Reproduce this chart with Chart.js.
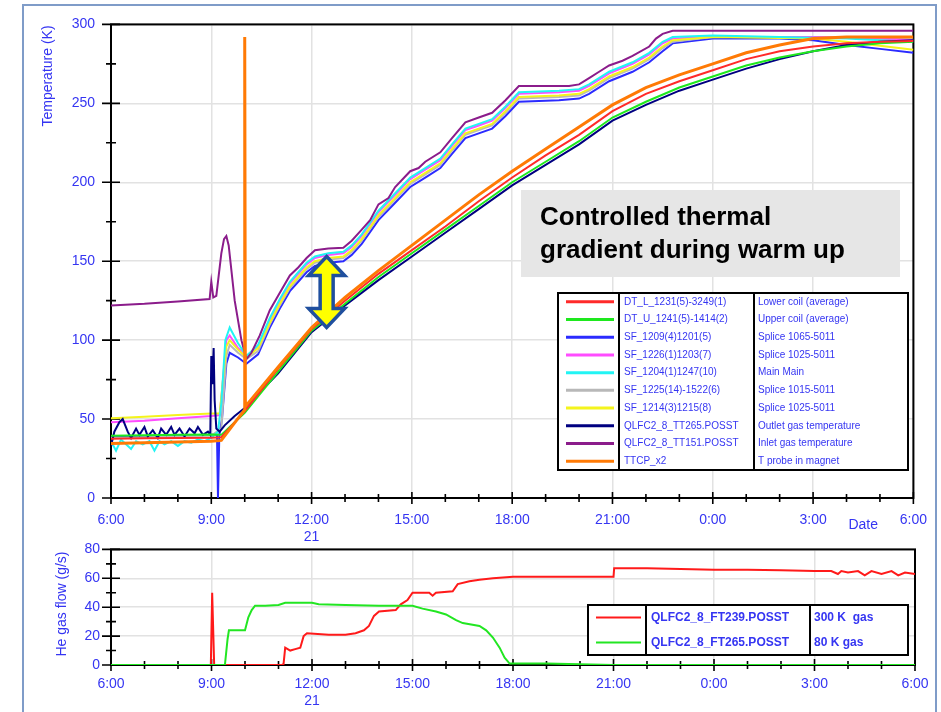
<!DOCTYPE html>
<html>
<head>
<meta charset="utf-8">
<script src="https://cdn.jsdelivr.net/npm/chart.js@4.4.1/dist/chart.umd.min.js"></script>
<style>
body { margin: 0; background: #fff; width: 941px; height: 712px; overflow: hidden; position: relative; }
#frame { position: absolute; left: 22px; top: 4px; width: 911px; height: 740px; border: 2px solid #7f9cc8; }
canvas { position: absolute; left: 0; }
</style>
</head>
<body>
<div id="frame"></div>
<canvas id="tempChart" width="941" height="545" style="top:0px"></canvas>
<canvas id="flowChart" width="941" height="182" style="top:530px"></canvas>
<script>
// x values are hours after 6:00
const timeLabels = ['6:00', '9:00', '12:00', '15:00', '18:00', '21:00', '0:00', '3:00', '6:00'];
const dayLabel = '21';

// ---- temperature series [hour, K] ----
const lowerCoil = [[0,37.5],[1,37.8],[2,38],[3,38.2],[3.3,38.5],[4,55],[5,82],[6,107],[7,125],[8,142],[9,157],[10,172],[11,188],[12,203],[13,217],[14,230],[15,245],[16,256],[17,264],[18,271],[19,278],[20,283],[21,286],[22,288],[23,289],[24,289.5]];
const upperCoil = [[0,39.5],[1,39.8],[2,40],[3,40.2],[3.3,40],[4,54],[5,80],[6,106],[7,123],[8,140],[9,155],[10,170],[11,185],[12,200],[13,213],[14,226],[15,241],[16,251],[17,260],[18,267],[19,274],[20,279],[21,283],[22,286],[23,288],[24,289]];
const splice1209 = [[0,38.5],[1,39],[2,39.5],[3.1,40],[3.17,40],[3.2,0],[3.24,40],[3.32,50],[3.45,85],[3.55,92],[3.8,89],[4.05,85],[4.4,91],[4.75,108],[5.05,120],[5.35,131],[5.6,137],[5.85,143],[6.1,147],[6.5,149],[6.95,150],[7.2,154],[7.5,161],[8.0,176],[8.5,187],[8.95,197],[9.4,203],[9.85,209],[10.2,218],[10.6,228],[11.0,231],[11.4,234],[11.8,242],[12.2,251],[13.4,252],[14.0,253],[14.3,256],[14.9,264],[15.6,270],[16.1,276],[16.5,283],[16.8,288],[18,291],[20,291],[21,290],[22,287],[23,284.5],[24,282]];
const splice1226 = [[0,48],[1,49],[2,50.5],[3.0,52],[3.25,52.5],[3.33,70],[3.45,100],[3.55,103],[3.8,95],[4.05,90],[4.4,96],[4.75,113],[5.05,125],[5.35,136],[5.6,142],[5.85,148],[6.1,152],[6.5,154],[6.95,155],[7.2,159],[7.5,166],[8.0,181],[8.5,192],[8.95,202],[9.4,208],[9.85,214],[10.2,223],[10.6,233],[11.0,236],[11.4,239],[11.8,247],[12.2,256],[13.4,257],[14.0,258],[14.3,261],[14.9,269],[15.6,275],[16.1,281],[16.5,288],[16.8,291],[18,292],[21,292],[22,291.5],[23,291],[24,290]];
const splice1204 = [[0,36],[0.15,30],[0.3,37],[0.45,34],[0.6,31],[0.75,36],[0.95,34],[1.15,36],[1.3,30],[1.45,36],[1.6,34],[1.8,36],[2.0,33],[2.2,36],[2.4,35],[2.6,37],[2.8,36],[3.0,38],[3.2,42],[3.3,60],[3.42,100],[3.55,108],[3.8,98],[4.05,90],[4.4,97],[4.75,114],[5.05,126],[5.35,137],[5.6,143],[5.85,149],[6.1,153],[6.5,155],[6.95,156],[7.2,160],[7.5,167],[8.0,182],[8.5,193],[8.95,203],[9.4,209],[9.85,215],[10.2,224],[10.6,234],[11.0,237],[11.4,240],[11.8,248],[12.2,257],[13.4,258],[14.0,259],[14.3,262],[14.9,270],[15.6,276],[16.1,282],[16.5,289],[16.8,292],[18,293],[20,292],[21,291.5],[22,291],[23,290],[24,289]];
const splice1225 = [[0,38],[1,38.5],[2,39],[3,39.5],[3.3,44],[3.45,90],[3.55,97],[3.8,92],[4.05,88],[4.4,93],[4.75,110],[5.05,122],[5.35,133],[5.6,139],[5.85,145],[6.1,149],[6.5,151],[6.95,152],[7.2,156],[7.5,163],[8.0,178],[8.5,189],[8.95,199],[9.4,205],[9.85,211],[10.2,220],[10.6,230],[11.0,233],[11.4,236],[11.8,244],[12.2,253],[13.4,254],[14.0,255],[14.3,258],[14.9,266],[15.6,272],[16.1,278],[16.5,285],[16.8,289],[18,292],[21,292],[22,291.5],[23,291],[24,290.5]];
const splice1214 = [[0,50.5],[1,51.5],[2,52.5],[3.0,53.5],[3.25,53.5],[3.35,75],[3.45,96],[3.55,100],[3.8,94],[4.05,89],[4.4,95],[4.75,111],[5.05,123],[5.35,134],[5.6,140],[5.85,146],[6.1,150],[6.5,152],[6.95,153],[7.2,157],[7.5,164],[8.0,179],[8.5,190],[8.95,200],[9.4,206],[9.85,212],[10.2,221],[10.6,231],[11.0,234],[11.4,237],[11.8,245],[12.2,254],[13.4,255],[14.0,256],[14.3,259],[14.9,267],[15.6,273],[16.1,279],[16.5,286],[16.8,290],[18,292],[21,291],[22,289],[23,286.5],[24,284]];
const outletGas = [[0,33],[0.1,42],[0.25,48],[0.35,50],[0.5,42],[0.6,38],[0.75,44],[0.85,40],[1.0,45],[1.1,39],[1.25,43],[1.4,38],[1.5,44],[1.65,40],[1.8,45],[1.9,40],[2.05,44],[2.2,39],[2.35,44],[2.5,41],[2.6,45],[2.75,40],[2.9,42],[2.97,40],[3.0,90],[3.03,72],[3.07,95],[3.1,62],[3.15,44],[3.25,42],[3.4,46],[3.7,52],[4,57],[5,79],[6,105],[7,122],[8,138],[9,153],[10,168],[11,183],[12,198],[13,211],[14,224],[15,239],[16,249],[17,258],[18,265],[19,272],[20,278],[21,283],[22,287],[23,289],[24,290]];
const inletGas = [[0,122],[1,123],[2,124.5],[2.95,126],[3.0,137],[3.06,127],[3.15,128],[3.3,155],[3.38,164],[3.45,166],[3.52,160],[3.7,125],[3.9,100],[4.05,88],[4.2,92],[4.45,103],[4.75,119],[5.05,130],[5.35,141],[5.6,146],[5.85,152],[6.1,157],[6.5,158],[6.95,158.5],[7.2,163],[7.5,170],[7.75,176],[8.0,186],[8.3,190],[8.5,197],[8.95,207],[9.2,209],[9.4,213],[9.85,219],[10.2,228],[10.6,238],[11.0,241],[11.4,244],[11.8,252],[12.2,261],[13.0,261],[13.7,261],[14.0,262],[14.3,266],[14.6,270],[14.9,274],[15.3,277],[15.6,280],[16.1,286],[16.3,291],[16.5,294],[16.8,296],[20,296],[24,296]];
const probeTTCP = [[0,34.5],[1,35],[2,35.5],[3,36],[3.3,36.5],[4,56],[4.0,292],[4.02,58],[5,83],[6,108],[7,127],[8,144],[9,160],[10,176],[11,192],[12,207],[13,221],[14,235],[15,249],[16,260],[17,268],[18,275],[19,282],[20,287],[21,291],[22,292],[23,292],[24,292]];

const tempNames = ['DT_L_1231(5)-3249(1)', 'DT_U_1241(5)-1414(2)', 'SF_1209(4)1201(5)', 'SF_1226(1)1203(7)', 'SF_1204(1)1247(10)', 'SF_1225(14)-1522(6)', 'SF_1214(3)1215(8)', 'QLFC2_8_TT265.POSST', 'QLFC2_8_TT151.POSST', 'TTCP_x2'];
const tempDescs = ['Lower coil (average)', 'Upper coil (average)', 'Splice 1065-5011', 'Splice 1025-5011', 'Main Main', 'Splice 1015-5011', 'Splice 1025-5011', 'Outlet gas temperature', 'Inlet gas temperature', 'T probe in magnet'];
const tempSeries = [lowerCoil, upperCoil, splice1209, splice1226, splice1204, splice1225, splice1214, outletGas, inletGas, probeTTCP];

// ---- He gas flow series [hour, g/s] ----
const flow300K = [[0,0],[2.98,0],[3.02,50],[3.08,0],[5.1,0],[5.15,0.5],[5.2,12],[5.35,10],[5.5,11],[5.65,12],[5.75,20],[5.85,22],[6.5,21],[7.0,21],[7.3,22],[7.55,24],[7.7,27],[7.85,34],[8.0,37],[8.5,38],[8.65,42],[8.85,45],[9.0,50],[9.5,50],[9.6,48],[9.7,50],[10.2,51],[10.35,56],[10.7,58],[11.0,59],[11.4,60],[12,61],[13,61],[14,61],[15,61],[15.02,67],[16,67],[17,66.5],[18,66],[19,66],[20,65.5],[21,65],[21.5,65],[21.7,63],[21.8,65],[22,64],[22.3,65],[22.5,62],[22.7,65],[23,63],[23.3,65],[23.5,62],[23.7,64],[24,63]];
const flow80K = [[0,0],[3.4,0],[3.48,18],[3.52,24],[4.0,24],[4.1,33],[4.2,38],[4.3,41],[4.6,41],[5.0,41.5],[5.2,43],[5.5,43],[6.0,43],[6.2,42],[7,41.5],[8,41],[9,41],[9.3,39],[9.7,37],[10,35],[10.3,31],[10.5,29],[11,27],[11.2,24],[11.4,19],[11.6,12],[11.75,5],[11.9,1],[13,1],[14,0.5],[15,0],[24,0]];
const flowNames = ['QLFC2_8_FT239.POSST', 'QLFC2_8_FT265.POSST'];
const flowDescs = ['300 K  gas', '80 K gas'];

const BLUE = '#3535f2';
const FONT = '"Liberation Sans", Arial, sans-serif';
const tempColors = ['#ff2a2a', '#1ee81e', '#2b2bff', '#ff4cff', '#22f4f4', '#b8b8b8', '#f4f41c', '#000080', '#8b1c8b', '#ff7a05'];
const tempWidths = [2, 2, 2, 2, 2, 2, 2, 2, 2, 3];
const tempOrder = [2, 3, 9, 7, 5, 8, 6, 4, 1, 0];

function timeTick(v) {
    const label = timeLabels[v / 3];
    if (v === 6) return [label, dayLabel];
    return label;
}

function drawFrame(chart, yStep, yMajor) {
    const { ctx, chartArea: a, scales: { x, y } } = chart;
    ctx.save();
    ctx.strokeStyle = '#000';
    ctx.lineWidth = 2;
    ctx.strokeRect(a.left, a.top, a.right - a.left, a.bottom - a.top);
    ctx.lineWidth = 1.6;
    ctx.beginPath();
    for (let h = x.min; h <= x.max; h += 1) {
        const px = x.getPixelForValue(h);
        const len = h % 3 === 0 ? 6 : 4;
        ctx.moveTo(px, a.bottom - len);
        ctx.lineTo(px, a.bottom + len);
    }
    for (let v = y.min; v <= y.max; v += yStep) {
        const py = y.getPixelForValue(v);
        const len = v % yMajor === 0 ? 9 : 5;
        ctx.moveTo(a.left - len, py);
        ctx.lineTo(a.left + len, py);
    }
    ctx.stroke();
    ctx.restore();
}

function drawYTitle(ctx, text, cx, cy) {
    ctx.save();
    ctx.translate(cx, cy);
    ctx.rotate(-Math.PI / 2);
    ctx.font = '14px ' + FONT;
    ctx.fillStyle = BLUE;
    ctx.textAlign = 'center';
    ctx.textBaseline = 'middle';
    ctx.fillText(text, 0, 0);
    ctx.restore();
}

function drawLegendTable(ctx, box, div1, div2, names, descs, colors, font, lineW) {
    const rowH = box.h / names.length;
    ctx.save();
    ctx.fillStyle = '#fff';
    ctx.fillRect(box.x, box.y, box.w, box.h);
    ctx.strokeStyle = '#000';
    ctx.lineWidth = 2;
    ctx.strokeRect(box.x, box.y, box.w, box.h);
    ctx.beginPath();
    ctx.moveTo(div1, box.y); ctx.lineTo(div1, box.y + box.h);
    ctx.moveTo(div2, box.y); ctx.lineTo(div2, box.y + box.h);
    ctx.stroke();
    ctx.font = font;
    ctx.textBaseline = 'middle';
    ctx.fillStyle = BLUE;
    names.forEach((n, i) => {
        const cy = box.y + rowH * (i + 0.5);
        ctx.strokeStyle = colors[i];
        ctx.lineWidth = lineW;
        ctx.beginPath();
        ctx.moveTo(box.x + 8, cy);
        ctx.lineTo(div1 - 5, cy);
        ctx.stroke();
        ctx.fillText(n, div1 + 5, cy);
        ctx.fillText(descs[i], div2 + 4, cy);
    });
    ctx.restore();
}

const tempDecor = {
    id: 'tempDecor',
    beforeDatasetsDraw(chart) {
        drawFrame(chart, 25, 50);
    },
    afterDraw(chart) {
        const { ctx, chartArea: a, scales: { x, y } } = chart;
        drawYTitle(ctx, 'Temperature (K)', 48, 76);
        ctx.save();
        ctx.font = '14px ' + FONT;
        ctx.fillStyle = BLUE;
        ctx.textAlign = 'center';
        ctx.textBaseline = 'middle';
        ctx.fillText('Date', x.getPixelForValue(22.5), a.bottom + 27);
        // annotation
        ctx.fillStyle = '#e6e6e6';
        ctx.fillRect(521, 190, 379, 87);
        ctx.fillStyle = '#000';
        ctx.font = 'bold 26px ' + FONT;
        ctx.textAlign = 'left';
        ctx.fillText('Controlled thermal', 540, 218);
        ctx.fillText('gradient during warm up', 540, 251);
        // double arrow between the two groups
        const cx = x.getPixelForValue(6.45);
        const top = y.getPixelForValue(153);
        const bot = y.getPixelForValue(108);
        const hw = 18, hh = 19, sw = 6.5;
        ctx.beginPath();
        ctx.moveTo(cx, top);
        ctx.lineTo(cx + hw, top + hh);
        ctx.lineTo(cx + sw, top + hh);
        ctx.lineTo(cx + sw, bot - hh);
        ctx.lineTo(cx + hw, bot - hh);
        ctx.lineTo(cx, bot);
        ctx.lineTo(cx - hw, bot - hh);
        ctx.lineTo(cx - sw, bot - hh);
        ctx.lineTo(cx - sw, top + hh);
        ctx.lineTo(cx - hw, top + hh);
        ctx.closePath();
        ctx.fillStyle = '#ffff00';
        ctx.fill();
        ctx.strokeStyle = '#1f4f9e';
        ctx.lineWidth = 3.5;
        ctx.lineJoin = 'miter';
        ctx.stroke();
        ctx.restore();
        drawLegendTable(ctx, { x: 558, y: 293, w: 350, h: 177 }, 619, 754,
            tempNames, tempDescs, tempColors, '10px ' + FONT, 3);
    }
};

const flowDecor = {
    id: 'flowDecor',
    beforeDatasetsDraw(chart) {
        drawFrame(chart, 10, 20);
    },
    afterDraw(chart) {
        drawYTitle(chart.ctx, 'He gas flow (g/s)', 62, 74);
        drawLegendTable(chart.ctx, { x: 588, y: 75, w: 320, h: 50 }, 646, 810,
            flowNames, flowDescs, ['#ff1a1a', '#22e622'], 'bold 12px ' + FONT, 2);
    }
};

function xScale(pad) {
    return {
        type: 'linear', min: 0, max: 24,
        afterFit: s => { s.height = 47; },
        ticks: { stepSize: 3, color: BLUE, font: { family: FONT, size: 14, lineHeight: 1.2 }, padding: pad, maxRotation: 0, autoSkip: false, callback: timeTick },
        grid: { color: '#e2e2e2', lineWidth: 1.5, drawTicks: false },
        border: { display: false }
    };
}

new Chart(document.getElementById('tempChart'), {
    type: 'line',
    data: {
        datasets: tempSeries.map((s, i) => ({
            label: tempNames[i],
            data: s.map(p => ({ x: p[0], y: p[1] })),
            borderColor: tempColors[i],
            borderWidth: tempWidths[i],
            pointRadius: 0,
            tension: 0,
            order: tempOrder[i]
        }))
    },
    options: {
        responsive: false,
        animation: false,
        events: [],
        layout: { padding: { left: 0, top: 18, right: 26, bottom: 0 } },
        plugins: { legend: { display: false }, tooltip: { enabled: false } },
        scales: {
            x: xScale(14),
            y: {
                min: 0, max: 300,
                afterFit: s => { s.width = 111; },
                ticks: { stepSize: 50, color: BLUE, font: { family: FONT, size: 14 }, padding: 16 },
                grid: { color: '#e2e2e2', lineWidth: 1.5, drawTicks: false },
                border: { display: false }
            }
        }
    },
    plugins: [tempDecor]
});

new Chart(document.getElementById('flowChart'), {
    type: 'line',
    data: {
        datasets: [
            { label: flowNames[0], data: flow300K.map(p => ({ x: p[0], y: p[1] })), borderColor: '#ff1a1a', borderWidth: 2, pointRadius: 0, order: 1 },
            { label: flowNames[1], data: flow80K.map(p => ({ x: p[0], y: p[1] })), borderColor: '#22e622', borderWidth: 2, pointRadius: 0, order: 0 }
        ]
    },
    options: {
        responsive: false,
        animation: false,
        events: [],
        layout: { padding: { left: 0, top: 15, right: 26, bottom: 0 } },
        plugins: { legend: { display: false }, tooltip: { enabled: false } },
        scales: {
            x: xScale(11),
            y: {
                min: 0, max: 80,
                afterFit: s => { s.width = 111; },
                ticks: { stepSize: 20, color: BLUE, font: { family: FONT, size: 14 }, padding: 11 },
                grid: { color: '#e2e2e2', lineWidth: 1.5, drawTicks: false },
                border: { display: false }
            }
        }
    },
    plugins: [flowDecor]
});
</script>
</body>
</html>
